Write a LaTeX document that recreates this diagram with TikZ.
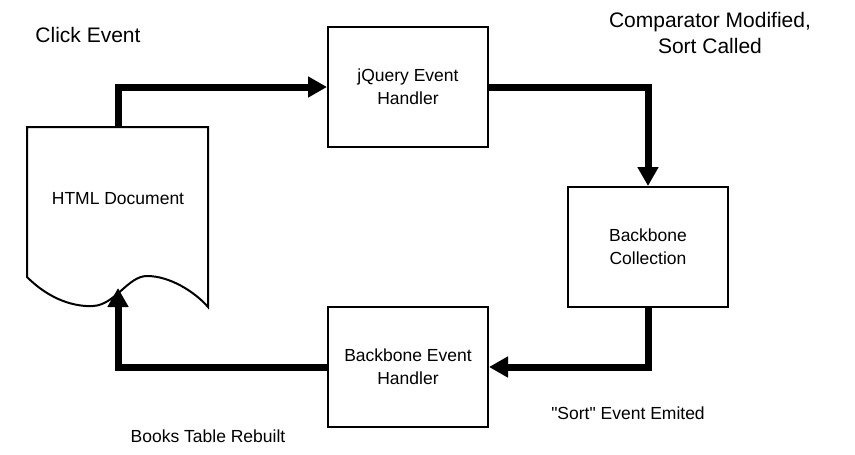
\documentclass[tikz,border=0pt]{standalone}
\usepackage{fontspec}
\setmainfont{Liberation Sans}
\newfontfamily\plainquotes{Liberation Sans}
\usetikzlibrary{arrows.meta}

\begin{document}
\begin{tikzpicture}[x=1pt, y=-1pt, node distance=280pt,
    box/.style={draw, line width=2pt, minimum width=160pt, minimum height=120pt, align=center, font=\fontsize{17.5}{23}\selectfont},
    flow/.style={line width=7pt, -{Triangle[length=19pt,width=20pt]}},
    biglabel/.style={align=center, font=\fontsize{21}{26}\selectfont},
    smalllabel/.style={font=\fontsize{17.5}{21}\selectfont}]
    \useasboundingbox (0,0) rectangle (855,455);
    \node [box] (jq) at (408,87) {jQuery Event\\Handler};
    \node [box] (beh) [below of=jq] {Backbone Event\\Handler};
    \node [box] (coll) at (648,247) {Backbone\\Collection};
    % document shape
    \draw [line width=2pt, fill=white] (27,127) -- (208,127) -- (208,307)
      .. controls (195,292) and (170,276) .. (147,276)
      .. controls (128,276) and (115,305) .. (93,306)
      .. controls (75,307) and (50,300) .. (27,277) -- cycle;
    \node [align=center, font=\fontsize{17.5}{23}\selectfont] (doc) at (118,199) {HTML Document};
    \coordinate (doctop) at (118,127);
    \coordinate (docwave) at (118,288);
    \node [biglabel] (click) at (88,35) {Click Event};
    \node [biglabel] (comp) at (710,33) {Comparator Modified,\\Sort Called};
    \node [smalllabel] (emit) at (628,413) {\plainquotes "Sort" Event Emited};
    \node [smalllabel] (rebuilt) at (208,436) {Books Table Rebuilt};
    \draw [flow] (doctop) |- (jq.west);
    \draw [flow] (jq.east) -| (coll.north);
    \draw [flow] (coll.south) |- (beh.east);
    \draw [flow] (beh.west) -| (docwave);
\end{tikzpicture}
\end{document}
